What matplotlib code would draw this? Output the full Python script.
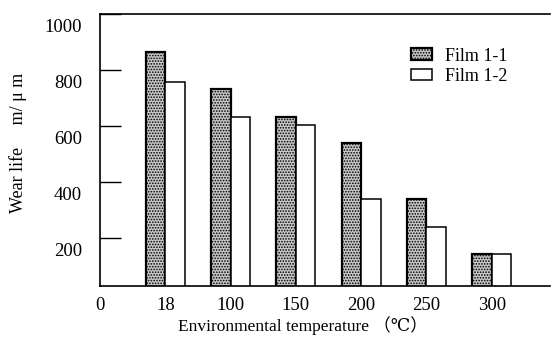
import matplotlib
matplotlib.use("Agg")
import matplotlib.pyplot as plt
import matplotlib.transforms as mtransforms
import numpy as np

plt.rcParams["font.family"] = ["Liberation Serif", "DejaVu Serif", "Noto Sans CJK SC"]
plt.rcParams["hatch.color"] = "#555555"
plt.rcParams["hatch.linewidth"] = 0.8

temps = ["18", "100", "150", "200", "250", "300"]
film_1_1 = [864, 732, 632, 539, 339, 143]
film_1_2 = [757, 632, 603, 339, 239, 143]
ytick_vals = [200, 400, 600, 800, 1000]

fig = plt.figure(figsize=(5.51, 3.38), dpi=100)
ax = fig.add_axes([0.1815, 0.1538, 0.8165, 0.8048])

x = np.arange(1, len(temps) + 1)
w = 0.3
ax.bar(x - w / 2, film_1_1, w, bottom=0, facecolor="#c8c8c8", edgecolor="black",
       linewidth=1.6, hatch="......", label="Film 1-1")
ax.bar(x + w / 2, film_1_2, w, bottom=0, facecolor="white", edgecolor="black",
       linewidth=1.1, label="Film 1-2")

ax.set_xlim(0, 6.89)
ax.set_ylim(28, 1000)

ax.set_xticks([0] + list(x))
ax.set_xticklabels(["0"] + temps)
ax.tick_params(axis="x", length=0, pad=8, labelsize=13.5)

ax.set_yticks(ytick_vals)
ax.set_yticklabels([str(v) for v in ytick_vals])
ax.tick_params(axis="y", direction="in", length=15, width=1.0, pad=13, labelsize=13.5)
# the printed labels sit a little below their tick marks
offset = mtransforms.ScaledTranslation(0, -12 / 100, fig.dpi_scale_trans)
for lab in ax.get_yticklabels():
    lab.set_transform(lab.get_transform() + offset)

ax.spines["right"].set_visible(False)
for s in ("left", "top", "bottom"):
    ax.spines[s].set_linewidth(1.2)

fig.text(18 / 551, 1 - 143 / 338, "Wear life     m/ μ m", fontsize=13,
         rotation=90, ha="center", va="center")
fig.text(178 / 551, 1 - 326 / 338, "Environmental temperature （℃）", fontsize=12.5,
         ha="left", va="center")

ax.legend(loc="upper left", bbox_to_anchor=(0.671, 0.91), frameon=False, fontsize=13,
          borderpad=0, handlelength=1.15, handleheight=0.6, handletextpad=0.75,
          labelspacing=0.2)

fig.savefig("out.png", dpi=100)
